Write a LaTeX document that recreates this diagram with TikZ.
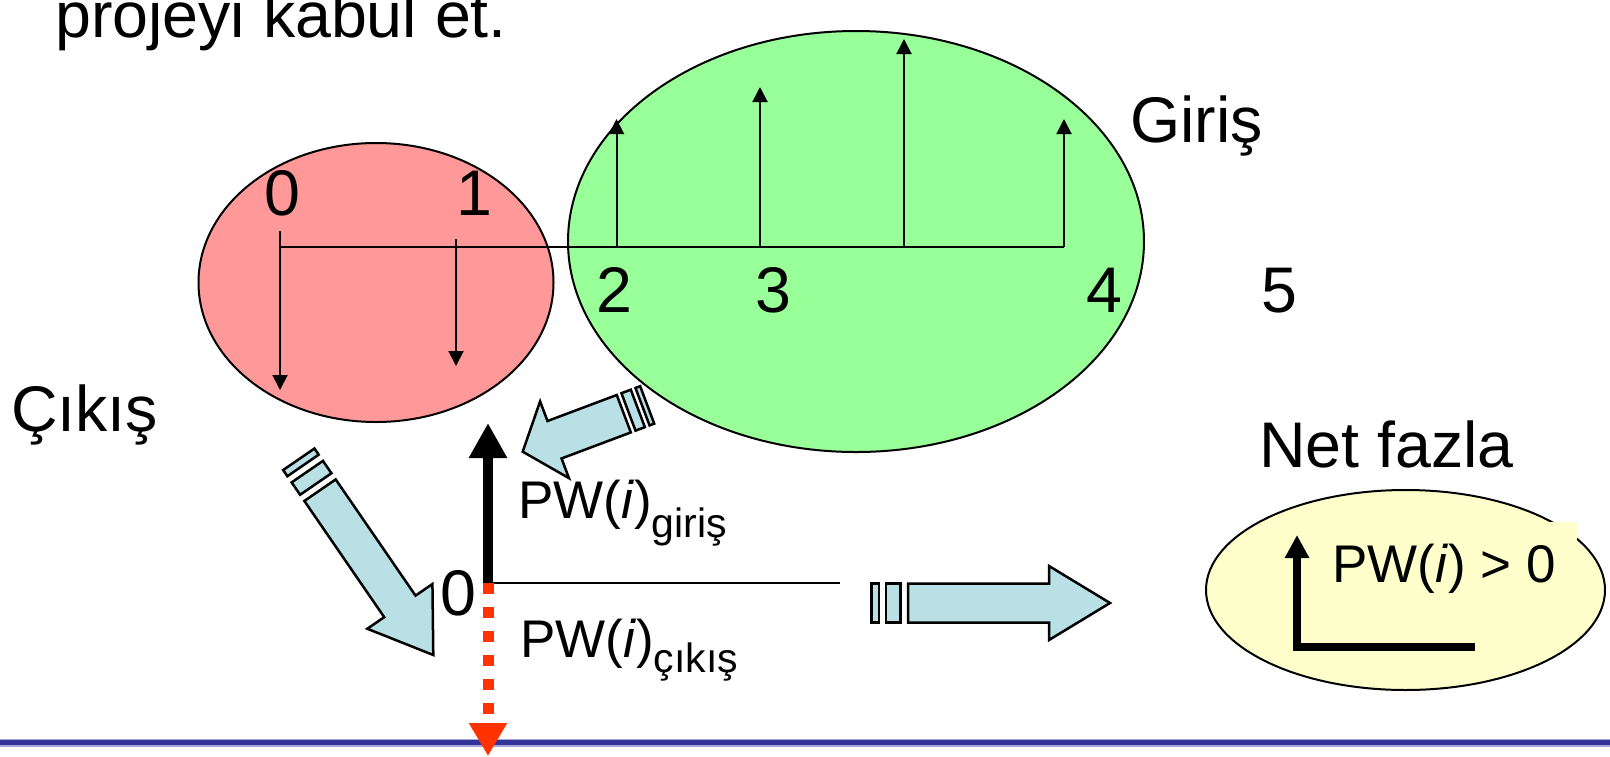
\documentclass[tikz,border=0pt]{standalone}
\usepackage{fontspec}
\setmainfont{Liberation Sans}
\usetikzlibrary{arrows.meta,shapes.geometric}
\definecolor{redfill}{RGB}{255,153,153}
\definecolor{greenfill}{RGB}{153,255,153}
\definecolor{yellowfill}{RGB}{255,255,204}
\definecolor{arrowblue}{RGB}{185,224,228}
\definecolor{dotred}{RGB}{255,51,0}
\definecolor{barblue}{RGB}{51,51,153}
\definecolor{barlight}{RGB}{165,165,215}
\tikzset{
  big/.style={font=\fontsize{64.5}{77}\selectfont, inner sep=0pt},
  mid/.style={font=\fontsize{53}{63}\selectfont, inner sep=0pt},
  flow/.style={line width=2pt, -{Triangle[width=15pt,length=15pt]}},
  blob/.style={draw=black, line width=2pt, ellipse, inner sep=0pt},
  blockarrow/.style={draw=black, line width=2.5pt, fill=arrowblue, line join=miter},
}
\newcommand{\myblockarrow}[5]{%
  \draw[blockarrow] (0,0) -- (-#1,#2) -- (-#1,#3) -- ({-#1-#4},#3) -- ({-#1-#4},-#3) -- (-#1,-#3) -- (-#1,-#2) -- cycle;
  \draw[blockarrow] ({-#1-#4-#5},-#3) rectangle ({-#1-#4-3*#5},#3);
  \draw[blockarrow] ({-#1-#4-4*#5},-#3) rectangle ({-#1-#4-5*#5},#3);
}
\begin{document}
\begin{tikzpicture}[x=1pt,y=-1pt]
\useasboundingbox (0,0) rectangle (1610,756);
\clip (0,0) rectangle (1610,756);

% title
\node[big, anchor=base west] (title) at (55,37) {projeyi kabul et.};

% ellipses
\node[blob, fill=redfill, minimum width=355pt, minimum height=279pt] (outE) at (376,282.5) {};
\node[blob, fill=greenfill, minimum width=576pt, minimum height=421pt] (inE) at (856,241.5) {};

% time line
\coordinate (t0) at (280,247);
\coordinate (t1) at (456,247);
\coordinate (t2) at (616.5,247);
\coordinate (t3) at (760,247);
\coordinate (t35) at (904,247);
\coordinate (t4) at (1064,247);
\coordinate (t0top) at (280,231);
\coordinate (t1top) at (456,239);
\coordinate (c0) at (280,390);
\coordinate (c1) at (456,366);
\coordinate (c2) at (616.5,119);
\coordinate (c3) at (760,87);
\coordinate (c35) at (904,39);
\coordinate (c4) at (1064,119);
\draw[line width=2pt] (t0) -- (t4);
\draw[flow] (t0top) -- (c0);
\draw[flow] (t1top) -- (c1);
\draw[flow] (t2) -- (c2);
\draw[flow] (t3) -- (c3);
\draw[flow] (t35) -- (c35);
\draw[flow] (t4) -- (c4);

\node[big, anchor=base] (n0) at (282,215) {0};
\node[big, anchor=base] (n1) at (474,215) {1};
\node[big, anchor=base] (n2) at (614,312) {2};
\node[big, anchor=base] (n3) at (773,312) {3};
\node[big, anchor=base] (n4) at (1104,312) {4};
\node[big, anchor=base] (n5) at (1279,312) {5};

\node[big, anchor=base west] (giris) at (1130,142) {Giriş};
\node[big, anchor=base west] (cikis) at (11,431) {Çıkış};
\node[big, anchor=base west] (netfazla) at (1259,467) {Net fazla};

% bottom bar
\coordinate (barL) at (0,742.7);
\coordinate (barR) at (1610,742.7);
\draw[barlight, line width=8pt] (barL) -- (barR);
\draw[barblue, line width=5.5pt] (barL) -- (barR);

% PW axis
\coordinate (origin) at (488,583);
\coordinate (up) at (488,423);
\coordinate (down) at (488,756);
\coordinate (axisend) at (840,583);
\draw[line width=2pt] (origin) -- (axisend);
\draw[line width=10pt, -{Triangle[width=36pt,length=35pt]}] (origin) -- (up);
\draw[dotred, line width=11pt, dash pattern=on 11pt off 13pt, -{Triangle[width=36pt,length=33pt]}] (origin) -- (down);
\node[big, anchor=base] (zero) at (458,615) {0};

\node[mid, anchor=base west] (pwin) at (518,518) {PW(\textit{i})\raisebox{-19pt}{\fontsize{41}{49}\selectfont giriş}};
\node[mid, anchor=base west] (pwout) at (520,657) {PW(\textit{i})\raisebox{-15pt}{\fontsize{41}{49}\selectfont çıkış}};

% net result ellipse
\node[blob, fill=yellowfill, minimum width=399pt, minimum height=200pt] (netE) at (1405.5,590) {};
\fill[yellowfill] (1320,522) rectangle (1577,600);
\node[mid, anchor=base west] (pwnet) at (1332,582) {PW(\textit{i}) > 0};
\coordinate (Lc) at (1297,646.5);
\coordinate (Lt) at (1297,535);
\coordinate (Lr) at (1475,646.5);
\draw[line width=8pt, line join=miter, -{Triangle[width=23pt,length=23pt]}] (Lr) -- (Lc) -- (Lt);

% block arrows
\begin{scope}[shift={(522.7,451.7)}, rotate=200.6]
  \myblockarrow{34}{41}{20}{74}{5}
\end{scope}
\begin{scope}[shift={(433.3,655)}, rotate=-55.5]
  \myblockarrow{59}{39.5}{19}{141}{7.5}
\end{scope}
\begin{scope}[shift={(1110,603)}]
  \myblockarrow{61}{37}{19.5}{141}{7.3}
\end{scope}
\end{tikzpicture}
\end{document}
